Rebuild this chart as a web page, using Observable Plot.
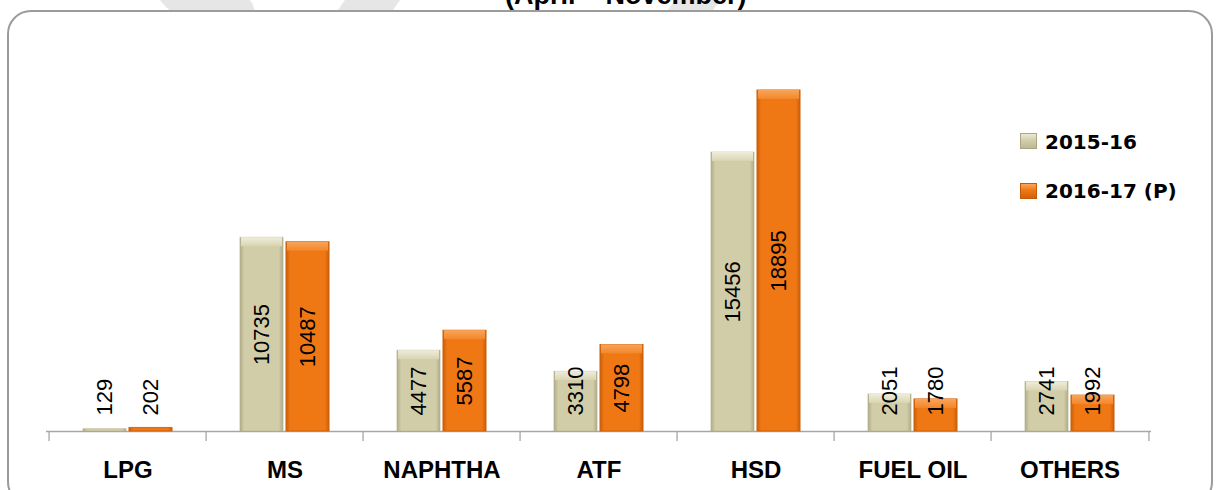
<!DOCTYPE html>
<html>
<head>
<meta charset="utf-8">
<script src="https://cdn.jsdelivr.net/npm/d3@7"></script>
<script src="https://cdn.jsdelivr.net/npm/@observablehq/plot@0.6"></script>
<style>
  html, body { margin: 0; padding: 0; background: #fff; }
  #wrap { position: relative; width: 1222px; height: 490px; overflow: hidden; background: #fff; }
  .wm { position: absolute; background: #e6e6e6; }
  #frame { position: absolute; left: 7px; top: 10px; width: 1206px; height: 496px;
           border: 2px solid #9b9b9b; border-radius: 24px; background: #fff; box-sizing: border-box; }
  #title { position: absolute; left: 505px; top: -20px; white-space: nowrap;
           font-family: "Liberation Sans", sans-serif; font-weight: bold;
           font-size: 27px; color: #000; line-height: 30px; }
  #plot { position: absolute; left: 0; top: 0; }
  .leg { position: absolute; left: 1020px; font-family: "DejaVu Sans", sans-serif; font-weight: bold;
         font-size: 20px; color: #000; white-space: nowrap; }
  .sw { position: absolute; left: 0; width: 17px; height: 16px; box-sizing: border-box; }
  .leg span.t { position: absolute; left: 25px; line-height: 20px; }
</style>
</head>
<body>
<div id="wrap">
  <div class="wm" style="left:160px;top:-20px;width:90px;height:40px;transform:skewX(35deg);border-radius:40px;"></div>
  <div class="wm" style="left:345px;top:-20px;width:55px;height:40px;transform:skewX(-35deg);"></div>
  <div class="wm" style="left:675px;top:-20px;width:45px;height:40px;transform:skewX(-35deg);"></div>
  <div id="title">(April – November)</div>
  <div id="frame"></div>
  <div id="plot"></div>
  <div class="leg" style="top:132px;">
    <div class="sw" style="top:1px;background:linear-gradient(180deg,#ecead6 0%,#d2cea9 45%,#bdb893 100%);border:1px solid #aaa583;"></div>
    <span class="t" style="top:0px;">2015-16</span>
  </div>
  <div class="leg" style="top:181px;">
    <div class="sw" style="top:2px;background:linear-gradient(180deg,#f9a65a 0%,#f07814 45%,#d2610a 100%);border:1px solid #c45a05;"></div>
    <span class="t" style="top:0px;">2016-17 (P)</span>
  </div>
</div>
<script>
const categories = ["LPG", "MS", "NAPHTHA", "ATF", "HSD", "FUEL OIL", "OTHERS"];
const seriesNames = ["2015-16", "2016-17 (P)"];
const values2015 = [129, 10735, 4477, 3310, 15456, 2051, 2741];
const values2016 = [202, 10487, 5587, 4798, 18895, 1780, 1992];
const yMax = 20000;

const W = 1222, H = 490;
const mL = 46, mR = 71, mT = 70, mB = 59;
const bw = (W - mL - mR) / categories.length;   // band width in px
const barW = 44, gap = 2;
const k = (H - mT - mB) / yMax;                   // px per unit

const dataA = categories.map((c, i) => ({cat: c, series: seriesNames[0], v: values2015[i]}));
const dataB = categories.map((c, i) => ({cat: c, series: seriesNames[1], v: values2016[i]}));

// label placement: centred in bar, but never closer than 16px to the baseline
const digitW = 12.2;
function labelBottom(v) {
  const len = String(v).length * digitW;
  const px = Math.max(v * k / 2 - len / 2, 16);
  return px / k;
}

const insA = {insetLeft: bw / 2 - barW - gap / 2, insetRight: bw / 2 + gap / 2};
const insB = {insetLeft: bw / 2 + gap / 2, insetRight: bw / 2 - barW - gap / 2};
const offA = -(barW + gap) / 2, offB = (barW + gap) / 2;

const chart = Plot.plot({
  width: W, height: H,
  marginLeft: mL, marginRight: mR, marginTop: mT, marginBottom: mB,
  style: {background: "transparent", overflow: "visible"},
  x: {domain: categories, padding: 0, label: null},
  y: {domain: [0, yMax], axis: null},
  marks: [
    Plot.ruleY([0], {stroke: "#a6a6a6", strokeWidth: 1.3}),
    Plot.ruleX(categories, {x: d => d, dx: -bw / 2, y1: 0, y2: -10 / k, stroke: "#a6a6a6", strokeWidth: 1.3}),
    Plot.ruleX([categories[categories.length - 1]], {x: d => d, dx: bw / 2, y1: 0, y2: -10 / k, stroke: "#a6a6a6", strokeWidth: 1.3}),
    Plot.barY(dataA, {x: "cat", y: "v", fill: "url(#gradGrey)", stroke: "#b3ae8b", strokeWidth: 0.8, strokeOpacity: 0.6, ...insA}),
    Plot.barY(dataB, {x: "cat", y: "v", fill: "url(#gradOrange)", stroke: "#c95f08", strokeWidth: 0.8, ...insB}),
    Plot.barY(dataA.filter(d => d.v * k > 20), {x: "cat", y1: "v", y2: "v", insetBottom: -9, fill: "url(#topGrey)", ...insA, insetLeft: insA.insetLeft + 1, insetRight: insA.insetRight + 1}),
    Plot.barY(dataB.filter(d => d.v * k > 20), {x: "cat", y1: "v", y2: "v", insetBottom: -9, fill: "url(#topOrange)", ...insB, insetLeft: insB.insetLeft + 1, insetRight: insB.insetRight + 1}),
    Plot.text(dataA, {x: "cat", y: d => labelBottom(d.v), text: d => String(d.v), rotate: -90,
      textAnchor: "start", lineAnchor: "middle", dx: offA, fontSize: 22,
      fontFamily: "Liberation Sans, Arial, sans-serif", fill: "#000"}),
    Plot.text(dataB, {x: "cat", y: d => labelBottom(d.v), text: d => String(d.v), rotate: -90,
      textAnchor: "start", lineAnchor: "middle", dx: offB, fontSize: 22,
      fontFamily: "Liberation Sans, Arial, sans-serif", fill: "#000"}),
    Plot.axisX({tickSize: 0, tickPadding: 29, fontSize: 24, fontWeight: "bold",
      fontFamily: "Liberation Sans, sans-serif", fill: "#000", label: null})
  ]
});

const defs = d3.select(chart).insert("defs", ":first-child");
function hGrad(id, edge, main) {
  const g = defs.append("linearGradient").attr("id", id).attr("x1", 0).attr("x2", 1).attr("y1", 0).attr("y2", 0);
  [[0, edge], [0.1, main], [0.9, main], [1, edge]].forEach(([o, c]) => g.append("stop").attr("offset", o).attr("stop-color", c));
}
function vGrad(id, c1, c2) {
  const g = defs.append("linearGradient").attr("id", id).attr("x1", 0).attr("x2", 0).attr("y1", 0).attr("y2", 1);
  [[0, c1], [1, c2]].forEach(([o, c]) => g.append("stop").attr("offset", o).attr("stop-color", c));
}
hGrad("gradGrey", "#b0ab88", "#d1cda8");
hGrad("gradOrange", "#cc5f08", "#f07814");
vGrad("topGrey", "#efedda", "#d8d4b1");
vGrad("topOrange", "#f9a45a", "#f3872a");

document.getElementById("plot").appendChild(chart);
</script>
</body>
</html>
